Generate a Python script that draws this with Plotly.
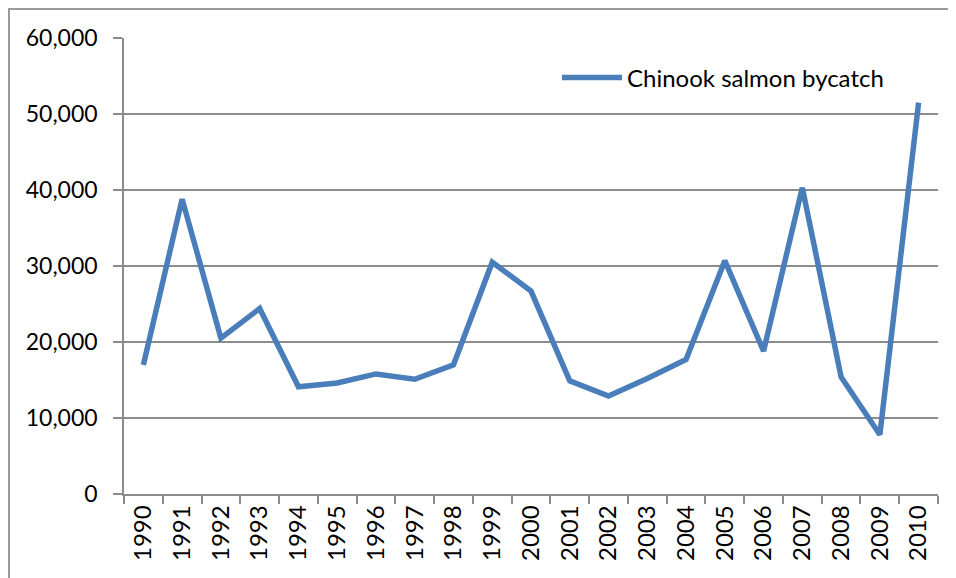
import plotly.graph_objects as go

years = [str(y) for y in range(1990, 2011)]
bycatch = [17000, 38800, 20500, 24400, 14100, 14600, 15800, 15100, 17000, 30500,
           26700, 14900, 12900, 15200, 17700, 30700, 18800, 40300, 15400, 7800, 51500]
series_name = "Chinook salmon bycatch"
y_ticks = [0, 10000, 20000, 30000, 40000, 50000, 60000]

OFF = 8  # page body margin
W, H = 956 - OFF, 578 - OFF
# plot area in window coords: x 124..938, y 38..494
X0, X1, Y0, Y1 = 124, 938, 38, 494
ML, MT = X0 - OFF, Y0 - OFF
MR = W - (X1 - OFF)
MB = H - (Y1 - OFF)
pw, ph = W - ML - MR, H - MT - MB

fig = go.Figure()
fig.add_trace(go.Scatter(
    x=years, y=bycatch, mode="lines", name=series_name,
    line=dict(color="#4A7EBB", width=5.5),
))

grid = "#8C8C8C"
font = "Lato"
fig.update_layout(
    width=W, height=H,
    margin=dict(l=ML, r=MR, t=MT, b=MB, pad=0),
    paper_bgcolor="white", plot_bgcolor="white",
    font=dict(family=font, size=24, color="#000000"),
    showlegend=True,
    legend=dict(x=(557 - X0) / pw, y=1 - (78 - Y0) / ph, xanchor="left", yanchor="middle",
                bgcolor="rgba(0,0,0,0)", font=dict(family=font, size=24),
                itemwidth=60),
    xaxis=dict(
        type="category", showgrid=False, showline=True, linecolor=grid, linewidth=1.5,
        ticks="outside", tickson="boundaries", ticklen=8, tickcolor=grid, tickwidth=1.5,
        tickangle=-90, tickfont=dict(family=font, size=24), range=[-0.5, 20.5],
    ),
    yaxis=dict(
        range=[0, 60000], tickvals=y_ticks, tickformat=",d",
        showgrid=True, gridcolor=grid, gridwidth=1.5,
        showline=True, linecolor=grid, linewidth=1.5,
        ticks="outside", ticklen=9, tickcolor=grid, tickwidth=1.5,
        tickfont=dict(family=font, size=23), zeroline=False,
        ticklabelstandoff=11,
    ),
)

# outer chart frame (right and bottom edges fall outside the window)
fig.add_shape(type="rect", xref="paper", yref="paper",
              x0=(9 - X0) / pw, x1=(956 + 20 - X0) / pw,
              y0=1 - (578 + 20 - Y0) / ph, y1=1 - (9 - Y0) / ph,
              line=dict(color="#999999", width=2), layer="below")

fig.write_html("out.html")
